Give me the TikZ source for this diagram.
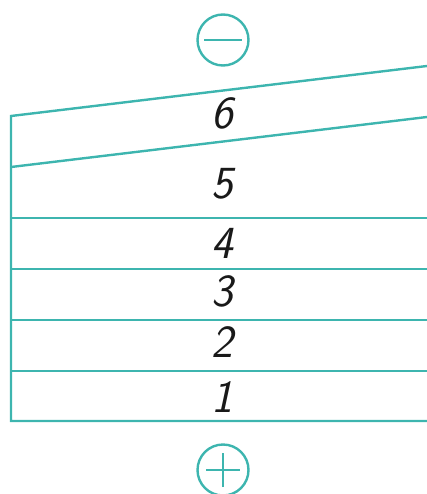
\documentclass[tikz,border=0pt]{standalone}
\usepackage{fontspec}
\usepackage{tikz}
\usetikzlibrary{calc}
\definecolor{cell-line}{HTML}{3DB5AF}
\tikzset{
  cellline/.style={draw=cell-line,line width=2.4pt},
  layernum/.style={font=\sffamily\itshape\fontsize{46}{46}\selectfont,text=black!90,inner sep=0pt},
  polesign/.style={circle,draw=cell-line,line width=2.4pt,minimum size=51pt,inner sep=0pt}
}

\begin{document}
\begin{tikzpicture}[x=1pt,y=-1pt]
  \useasboundingbox (0,0) rectangle (427,494);
  % outline of the stack
  \coordinate (topL) at (11,116); \coordinate (topR) at (427,66);
  \coordinate (midL) at (11,167); \coordinate (midR) at (427,117);
  \coordinate (botL) at (11,421); \coordinate (botR) at (427,421);
  \draw[cellline] (topR) -- (topL) -- (botL) -- (botR);
  \draw[cellline] (midL) -- (midR);
  \foreach \y in {218,269,320,371}
    \draw[cellline] (11,\y) -- (427,\y);
  % layer numbers
  \foreach \n/\y in {1/397,2/342,3/291,4/243,5/184,6/113}
    \node[layernum] (num\n) at (222,\y) {\n};
  % poles
  \node[polesign] (minus) at (223,40) {};
  \draw[cellline] ([xshift=-19pt]minus.center) -- ([xshift=19pt]minus.center);
  \node[polesign] (plus) at (223,470) {};
  \draw[cellline] ([xshift=-17pt]plus.center) -- ([xshift=17pt]plus.center);
  \draw[cellline] ([yshift=-17pt]plus.center) -- ([yshift=17pt]plus.center);
\end{tikzpicture}
\end{document}
